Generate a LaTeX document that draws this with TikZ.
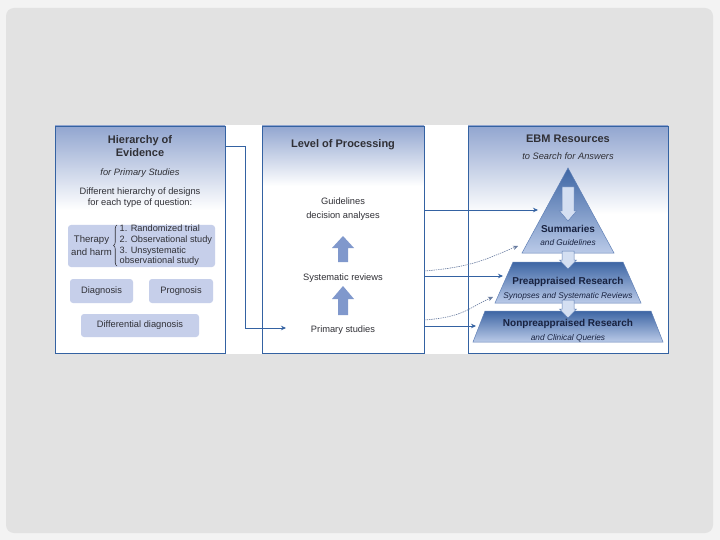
\documentclass[tikz,border=0pt]{standalone}
\usepackage{fontspec}
\setmainfont{Liberation Sans}
\usetikzlibrary{arrows.meta, positioning, calc, decorations.pathreplacing}
\definecolor{ebmblue}{RGB}{52,98,162}
\definecolor{headblue}{RGB}{146,166,208}
\definecolor{boxblue}{RGB}{198,207,234}
\definecolor{arrblue}{RGB}{128,152,204}
\definecolor{pyrfill}{RGB}{212,223,242}
\definecolor{tiertop}{RGB}{62,102,164}
\definecolor{tierbot}{RGB}{186,202,232}
\definecolor{tierline}{RGB}{96,128,182}
\definecolor{navy}{RGB}{24,34,64}
\definecolor{ink}{RGB}{48,48,54}
\definecolor{slide}{RGB}{226,226,226}
\definecolor{page}{RGB}{243,243,243}
\definecolor{dashgray}{RGB}{104,124,160}
\tikzstyle{head}     = [font=\fontsize{11}{13.5}\selectfont\bfseries, text=ink, align=center]
\tikzstyle{sub}      = [font=\fontsize{9.3}{11}\selectfont\itshape, text=ink, align=center]
\tikzstyle{body}     = [font=\fontsize{9.3}{11.5}\selectfont, text=ink, align=center]
\tikzstyle{topic}    = [rectangle, rounded corners=3pt, fill=boxblue, inner sep=0pt,
                        font=\fontsize{9.3}{11}\selectfont, text=ink, align=center]
\tikzstyle{tiername} = [font=\fontsize{10}{12}\selectfont\bfseries, text=navy]
\tikzstyle{tiernote} = [font=\fontsize{8.3}{10}\selectfont\itshape, text=navy]
\tikzstyle{tier}     = [draw=tierline, line width=0.5pt, top color=tiertop, bottom color=tierbot]
\tikzstyle{header}   = [top color=headblue, bottom color=white]
\tikzstyle{panel}    = [rectangle, draw=ebmblue, line width=0.6pt, minimum height=227pt, inner sep=0pt]
\tikzstyle{uparr}    = [fill=arrblue]
\tikzstyle{downarr}  = [fill=pyrfill, draw=tierline, line width=0.5pt]
\tikzstyle{bracket}  = [draw=ink, line width=0.6pt, decorate, decoration={brace, amplitude=3.5pt}]
\tikzstyle{arr}      = [-{Stealth[length=5pt, width=4.5pt]}, draw=ebmblue, line width=0.7pt]
\tikzstyle{darr}     = [-{Stealth[length=5pt, width=4.5pt]}, draw=dashgray, line width=0.6pt,
                        dash pattern=on 1.4pt off 0.9pt]

\begin{document}
\begin{tikzpicture}[x=1pt, y=-1pt]
  \useasboundingbox (0,0) rectangle (720,540);
  \fill[page] (0,0) rectangle (720,540);
  \fill[slide, rounded corners=8pt] (6,8) rectangle (713,533);
  \fill[white] (55,125) rectangle (668,354);

  % header fades, then the three panels on top
  \shade[header] (55,126) -- (225,126) -- (225,210) -- (55,210) -- cycle;
  \shade[header] (262,126) -- (424,126) -- (424,186) -- (262,186) -- cycle;
  \shade[header] (468,126) -- (668,126) -- (668,214) -- (468,214) -- cycle;
  \node[panel, minimum width=170pt] (hier) at (140,239.5) {};
  \node[panel, minimum width=162pt] (proc) at (343,239.5) {};
  \node[panel, minimum width=200pt] (ebm) at (568,239.5) {};

  % hierarchy of evidence
  \node[head] (hiertitle) at (140,146) {Hierarchy of\\Evidence};
  \node[sub] (primsub) at (140,173) {for Primary Studies};
  \node[body] (designs) at (140,197.5) {Different hierarchy of designs\\for each type of question:};
  \node[topic, minimum width=147pt, minimum height=42pt] (therapy) at (141.5,246) {};
  \node[topic, fill=none, font=\fontsize{9.6}{13}\selectfont] (harm) at (91.5,245.5) {Therapy\\and harm};
  \node[topic, fill=none, anchor=west, align=left, font=\fontsize{9.2}{10.7}\selectfont] (trials) at (119.5,245.5)
    {1. Randomized trial\\2. Observational study\\3. Unsystematic\\observational study};
  \draw[bracket] ($(trials.south west)+(-2.5,0)$) -- ($(trials.north west)+(-2.5,0)$);
  \node[topic, minimum width=63pt, minimum height=24pt] (diag) at (101.5,291) {Diagnosis};
  \node[topic, minimum width=64pt, minimum height=24pt] (prog) at (181,291) {Prognosis};
  \node[topic, minimum width=118pt, minimum height=23pt] (diff) at (140,325.5) {Differential diagnosis};

  % level of processing
  \node[head] (proctitle) at (343,145) {Level of Processing};
  \node[body, font=\fontsize{9.3}{14}\selectfont] (guide) at (343,209.5) {Guidelines\\decision analyses};
  \node[body] (sysrev) at (343,278) {Systematic reviews};
  \node[body] (prim) at (343,330) {Primary studies};
  \path[uparr] (343,236) -- ++(11,12) -- ++(-6,0) -- ++(0,14) -- ++(-10,0) -- ++(0,-14) -- ++(-6,0) -- cycle;
  \path[uparr] (343,286) -- ++(11,13) -- ++(-6,0) -- ++(0,16) -- ++(-10,0) -- ++(0,-16) -- ++(-6,0) -- cycle;

  % EBM resources pyramid
  \node[head] (ebmtitle) at (568,139) {EBM Resources};
  \node[sub] (ebmsub) at (568,156) {to Search for Answers};
  \path[tier] (568,168) -- (614,253) -- (522,253) -- cycle;
  \path[tier] (513,262) -- (623,262) -- (641,303) -- (495,303) -- cycle;
  \path[tier] (485,311) -- (651,311) -- (663,342) -- (473,342) -- cycle;
  \path[downarr] (568,221) -- ++(8.5,-10) -- ++(-2.5,0) -- ++(0,-24) -- ++(-12,0) -- ++(0,24) -- ++(-2.5,0) -- cycle;
  \path[downarr] (568,269) -- ++(8.5,-9) -- ++(-2.5,0) -- ++(0,-9) -- ++(-12,0) -- ++(0,9) -- ++(-2.5,0) -- cycle;
  \path[downarr] (568,318) -- ++(8.5,-9) -- ++(-2.5,0) -- ++(0,-9) -- ++(-12,0) -- ++(0,9) -- ++(-2.5,0) -- cycle;
  \node[tiername] (summ) at (568,229) {Summaries};
  \node[tiernote] (summnote) at (568,243) {and Guidelines};
  \node[tiername] (preap) at (568,282) {Preappraised Research};
  \node[tiernote] (preapnote) at (568,296) {Synopses and Systematic Reviews};
  \node[tiername] (nonpre) at (568,324) {Nonpreappraised Research};
  \node[tiernote] (nonprenote) at (568,338) {and Clinical Queries};

  % connectors
  \coordinate (primin) at (286,328);
  \coordinate (summin) at (538,210);
  \coordinate (preapin) at (503,276);
  \coordinate (nonprein) at (476,326);
  \coordinate (summside) at (518,246);
  \coordinate (preapside) at (493,297);
  \draw[arr] (hier.east |- hiertitle) -- ++(20,0) |- (primin);
  \draw[arr] (proc.east |- summin) -- (summin);
  \draw[arr] (proc.east |- preapin) -- (preapin);
  \draw[arr] (proc.east |- nonprein) -- (nonprein);
  \draw[darr] ($(proc.east |- sysrev)+(0,-7)$) .. controls +(50,-4) and +(-30,12) .. (summside);
  \draw[darr] ($(proc.east |- prim)+(0,-10)$) .. controls +(40,-3) and +(-25,11) .. (preapside);
\end{tikzpicture}
\end{document}
